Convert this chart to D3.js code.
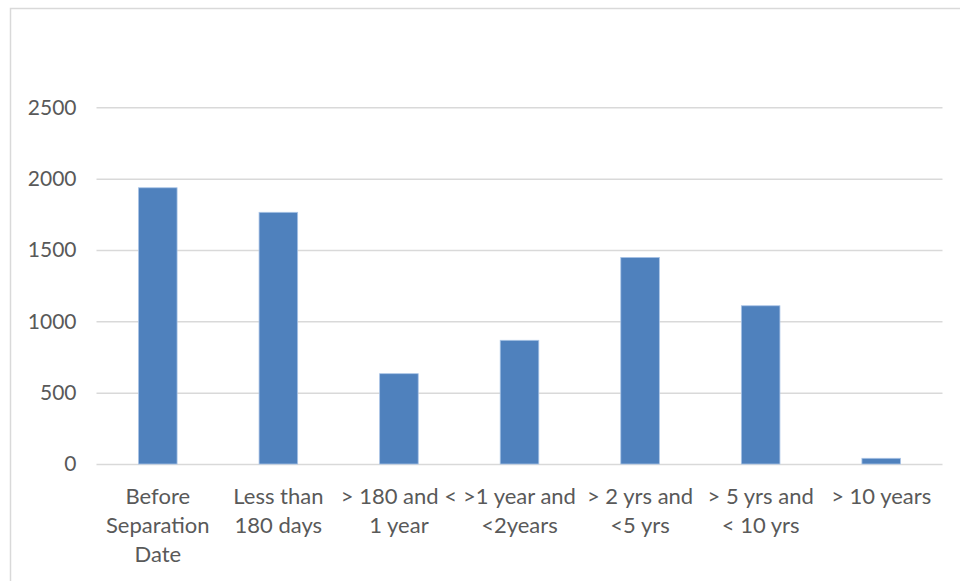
<!DOCTYPE html>
<html>
<head>
<meta charset="utf-8">
<script src="https://cdn.jsdelivr.net/npm/d3@7"></script>
<style>
  html, body { margin: 0; padding: 0; background: #fff; }
  svg { display: block; }
  text { font-family: Lato, "Liberation Sans", sans-serif; fill: #595959; }
</style>
</head>
<body>
<svg id="chart" width="960" height="581"></svg>
<script>
// Time between separation date and claim filing
const categories = [
  "Before\nSeparation\nDate",
  "Less than\n180 days",
  "> 180 and <\n1 year",
  ">1 year and\n<2years",
  "> 2 yrs and\n<5 yrs",
  "> 5 yrs and\n< 10 yrs",
  "> 10 years"
];
const counts = [1936, 1764, 633, 867, 1448, 1109, 40];
const yTicks = [0, 500, 1000, 1500, 2000, 2500];

const svg = d3.select("#chart");
const W = 960, H = 581;

// Chart-area frame (open on the right and bottom edges)
svg.append("path")
  .attr("d", `M10.5,${H} V8.5 H${W}`)
  .attr("fill", "none")
  .attr("stroke", "#d9d9d9")
  .attr("stroke-width", 1.5);

const plotLeft = 96.5, plotRight = 942.5;

const x = d3.scaleBand()
  .domain(categories)
  .range([97.5, 941.5])
  .paddingInner(0.68)
  .paddingOuter(0.34);

const y = d3.scaleLinear()
  .domain([0, 2500])
  .range([464, 107.3]);

// Horizontal gridlines and value labels
const yAxis = d3.axisLeft(y)
  .tickValues(yTicks)
  .tickSize(-(plotRight - plotLeft))
  .tickPadding(20)
  .tickFormat(d3.format("d"));

const gy = svg.append("g")
  .attr("transform", `translate(${plotLeft},0)`)
  .call(yAxis);
gy.select(".domain").remove();
gy.selectAll(".tick line")
  .attr("stroke", "#d9d9d9")
  .attr("stroke-width", 1.5);
gy.selectAll(".tick text")
  .attr("font-size", 21)
  .attr("fill", "#595959")
  .attr("font-family", "Lato, 'Liberation Sans', sans-serif");

// Bars
svg.append("g")
  .selectAll("rect")
  .data(counts)
  .join("rect")
  .attr("x", (d, i) => x(categories[i]))
  .attr("width", x.bandwidth())
  .attr("y", d => y(d))
  .attr("height", d => y(0) - y(d))
  .attr("fill", "#4f81bd")
  .attr("stroke", "#a9c4e6")
  .attr("stroke-width", 0.8);

// Category labels, wrapped onto several lines
const labels = svg.append("g")
  .selectAll("text")
  .data(categories)
  .join("text")
  .attr("text-anchor", "middle")
  .attr("font-size", 22)
  .attr("x", d => x(d) + x.bandwidth() / 2)
  .attr("y", 504);

labels.each(function (d) {
  const t = d3.select(this);
  d.split("\n").forEach((line, i) => {
    t.append("tspan")
      .attr("x", x(d) + x.bandwidth() / 2)
      .attr("y", 504 + i * 29)
      .text(line);
  });
});
</script>
</body>
</html>
